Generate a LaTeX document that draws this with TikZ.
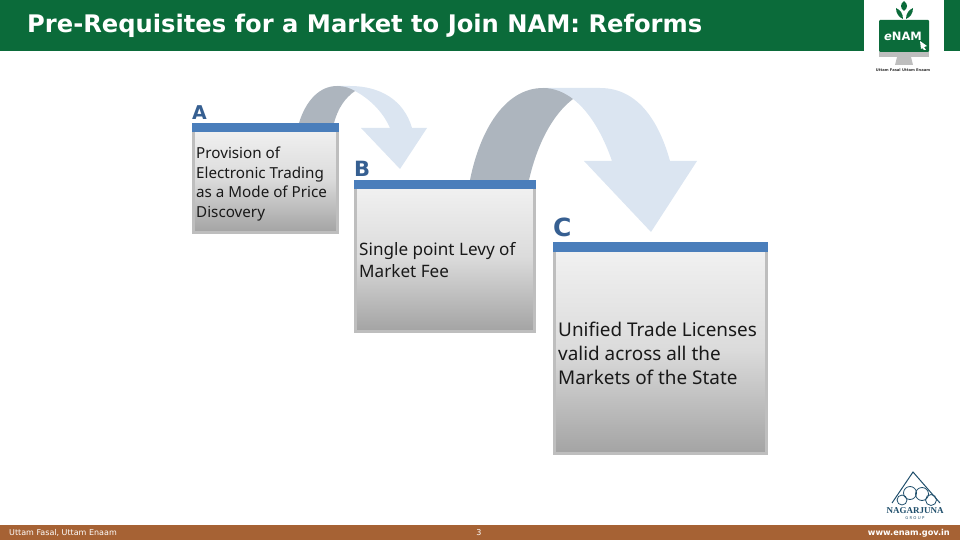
\documentclass[tikz,border=0pt]{standalone}
\usepackage{fontspec}
\setmainfont{Noto Sans}
\newfontfamily\verd{DejaVu Sans}
\newfontfamily\timesf{Liberation Serif}
\definecolor{headgreen}{HTML}{0B6B3A}
\definecolor{footbrown}{HTML}{A66234}
\definecolor{barblue}{HTML}{4A7EBB}
\definecolor{letterblue}{HTML}{365F91}
\definecolor{bandgray}{HTML}{ADB5BE}
\definecolor{arrowblue}{HTML}{DBE5F1}
\definecolor{rimgray}{HTML}{BEBEBE}
\definecolor{groupblue}{HTML}{1F4E6B}
\tikzset{
    cardbody/.style={draw=rimgray, line width=3pt, top color=black!5, bottom color=black!36, middle color=black!14},
    cardbar/.style={fill=barblue, draw=none},
    cardtext/.style={anchor=north west, align=left, inner sep=0pt, text=black!90},
    cardletter/.style={anchor=south west, inner sep=0pt, text=letterblue, font=\verd\bfseries},
    foottext/.style={inner sep=0pt, text=white, font=\verd\fontsize{8}{8}\selectfont},
}
\begin{document}
\begin{tikzpicture}[x=1pt,y=-1pt]
    \useasboundingbox(0,0)rectangle(960,540);
    % header and footer
    \path[fill=headgreen](0,0)rectangle(864,51);
    \path[fill=headgreen](944,0)rectangle(960,51);
    \path[fill=footbrown](0,525)rectangle(960,540);
    \node[anchor=west, inner sep=0pt, text=white, font=\verd\bfseries\fontsize{24.2}{24.2}\selectfont](title)at(27,26){Pre-Requisites for a Market to Join NAM: Reforms};
    \node[foottext, anchor=west](slogan)at(9,533){Uttam Fasal, Uttam Enaam};
    \node[foottext](page)at(479,533){3};
    \node[foottext, anchor=east, font=\verd\bfseries\fontsize{8.2}{8.2}\selectfont](site)at(950,533){www.enam.gov.in};
    % arrow from A
    \path[fill=arrowblue](337,86)--(350,86)..controls(380,86)and(404,100)..(412,128)--(427,128)--(400,169)--(361,128)--(390,128)..controls(382,110)and(368,98)..(355,91)--cycle;
    \path[fill=bandgray](299,123)..controls(306,100)and(320,86)..(337,86)..controls(344,86)and(350,88)..(355,91)..controls(345,98)and(338,108)..(334,123)--cycle;
    % arrow from B
    \path[fill=arrowblue](543,88)--(600,88)..controls(640,88)and(660,125)..(670,161)--(697,161)--(651,232)--(584,161)--(612,161)..controls(603,135)and(590,112)..(573,99)--cycle;
    \path[fill=bandgray](470,180)..controls(480,130)and(505,88)..(543,88)..controls(555,88)and(565,93)..(573,99)..controls(552,115)and(537,145)..(529,180)--cycle;
    % cards
    \foreach \l/\t/\r/\b/\h in {192/123/339/234/9, 354/180/536/333/9, 553/242/768/455/10}
    {
        \path[cardbody]({\l+1.5},{\t+2})rectangle({\r-1.5},{\b-1.5});
        \path[cardbar](\l,\t)rectangle(\r,{\t+\h});
    }
    \node[cardletter, font=\verd\bfseries\fontsize{19}{19}\selectfont](a)at(192,120){A};
    \node[cardletter, font=\verd\bfseries\fontsize{21}{21}\selectfont](b)at(354,177){B};
    \node[cardletter, font=\verd\bfseries\fontsize{25}{25}\selectfont](c)at(553,237){C};
    \node[cardtext, font=\fontsize{15.2}{19.5}\selectfont](atext)at(196,147){Provision of\\Electronic Trading\\as a Mode of Price\\Discovery};
    \node[cardtext, font=\fontsize{17.1}{22}\selectfont](btext)at(359,242){Single point Levy of\\Market Fee};
    \node[cardtext, font=\fontsize{18.9}{24}\selectfont](ctext)at(558,321.5){Unified Trade Licenses\\valid across all the\\Markets of the State};
    % eNAM logo
    \path[fill=headgreen, rounded corners=1pt](879,20)rectangle(929,52);
    \path[fill=rimgray](879,52)rectangle(929,57);
    \path[fill=rimgray](897,57)--(911,57)--(913,65)--(895,65)--cycle;
    \path[fill=headgreen](904,1)..controls(900,4)and(900,8)..(904,11)..controls(908,8)and(908,4)..(904,1)--cycle;
    \path[fill=headgreen](896,8)..controls(896,14)and(899,17)..(903,19)..controls(903,13)and(900,10)..(896,8)--cycle;
    \path[fill=headgreen](913,8)..controls(913,14)and(910,17)..(906,19)..controls(906,13)and(909,10)..(913,8)--cycle;
    \node[inner sep=0pt, text=white, font=\verd\bfseries\fontsize{11.5}{11.5}\selectfont](enam)at(903,36){\textit{e}NAM};
    \path[fill=white](920,41)--(927,46)--(924,47)--(926,50)--(924,50)--(922,48)--(921,49)--cycle;
    \node[inner sep=0pt, text=black!80, font=\verd\bfseries\fontsize{3.7}{3.7}\selectfont](logotag)at(903,70){Uttam Fasal Uttam Enaam};
    % group logo
    \path[draw=groupblue, line width=1pt](892,503)--(913,472)--(940,503);
    \foreach \x/\y/\rad in {902/500/5, 910/493/6.5, 922/494/6.5, 931/500/5.5}
    {
        \path[draw=groupblue, line width=0.8pt](\x,\y)circle(\rad);
    }
    \node[inner sep=0pt, text=groupblue, font=\timesf\bfseries\fontsize{9}{9}\selectfont](nagarjuna)at(915,511){NAGARJUNA};
    \node[inner sep=0pt, text=groupblue, font=\bfseries\fontsize{4}{4}\selectfont](group)at(915,518){G\,\,R\,\,O\,\,U\,\,P};
\end{tikzpicture}
\end{document}
